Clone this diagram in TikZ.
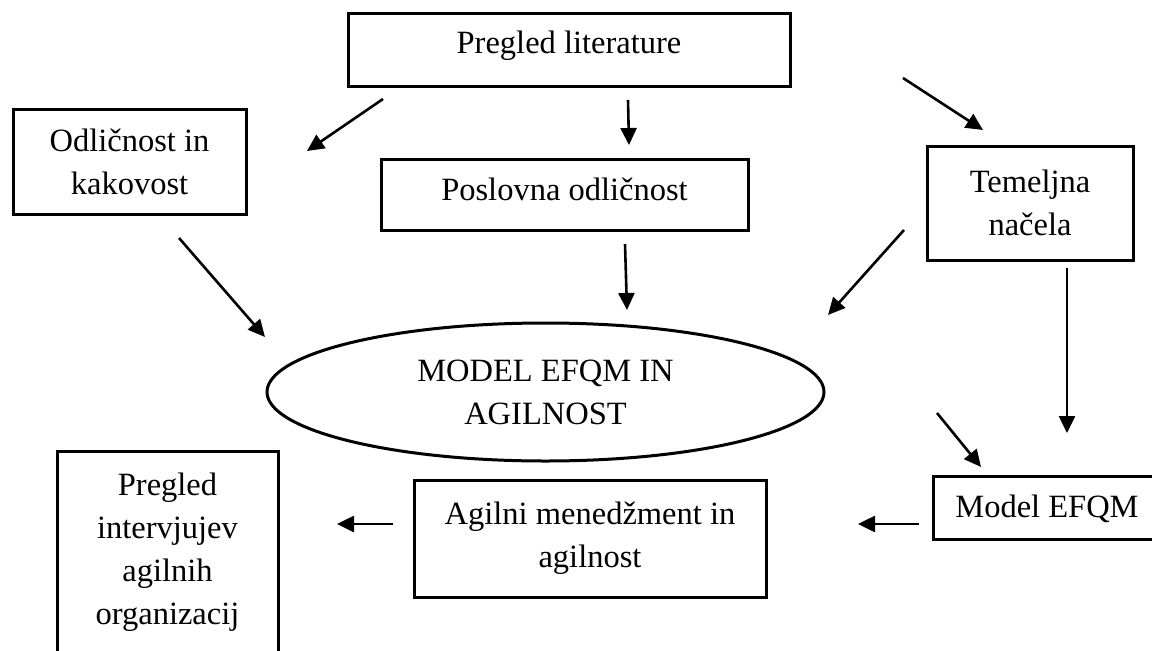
\documentclass[tikz,border=0pt]{standalone}
\usepackage{fontspec}
\setmainfont{Liberation Serif}
\usetikzlibrary{arrows.meta,shapes.geometric}
\begin{document}
\begin{tikzpicture}[x=1pt,y=-1pt,
  boxbase/.style={draw, line width=3pt, inner sep=0pt, font=\fontsize{32.5}{43}\selectfont},
  box/.style={boxbase, align=center},
  arr/.style={line width=2.6pt, -{Triangle[length=17pt,width=16pt]}}]
\useasboundingbox (0,0) rectangle (1152,651);
\fill[white] (0,0) rectangle (1152,651);
\clip (0,0) rectangle (1152,651);

% boxes
\node[box, anchor=base, minimum width=442pt, text height=40pt, text depth=33pt] (lit) at (569,53) {Pregled literature};
\node[box, minimum width=233pt, minimum height=105pt] (odl) at (129.5,161.5) {Odličnost in\\kakovost};
\node[box, anchor=base, minimum width=367pt, text height=41pt, text depth=30pt] (pos) at (564.5,200) {Poslovna odličnost};
\node[box, minimum width=206pt, minimum height=114pt] (tem) at (1030,203) {Temeljna\\načela};
\node[box, ellipse, minimum width=557pt, minimum height=138pt] (ell) at (545.5,392) {MODEL EFQM IN\\AGILNOST};
\node[box, anchor=base, minimum width=228pt, text height=41pt, text depth=22pt] (mod) at (1047,517) {Model EFQM};
\node[box, minimum width=352pt, minimum height=117pt] (agi) at (590,538.5) {Agilni menedžment in\\agilnost};
\node[boxbase, anchor=north, minimum width=221pt, text height=106pt, text depth=150pt] (pri) at (167.5,450)
  {\begin{tabular}{@{}c@{}}Pregled\\intervjujev\\agilnih\\organizacij\end{tabular}};

% connector ends
\coordinate (litOdlS) at (383,99);   \coordinate (litOdlE) at (307,151);
\coordinate (litPosS) at (628,100);  \coordinate (litPosE) at (629,145);
\coordinate (litTemS) at (903,78);   \coordinate (litTemE) at (983,130);
\coordinate (odlEllS) at (179,238);  \coordinate (odlEllE) at (265,337);
\coordinate (posEllS) at (625,244);  \coordinate (posEllE) at (627,310);
\coordinate (temEllS) at (904,230);  \coordinate (temEllE) at (828,315);
\coordinate (temModS) at (1067,268); \coordinate (temModE) at (1067,433);
\coordinate (ellModS) at (937,413);  \coordinate (ellModE) at (981,467);
\coordinate (modAgiS) at (919,524);  \coordinate (modAgiE) at (858,524);
\coordinate (agiPriS) at (393,524);  \coordinate (agiPriE) at (337,524);

\draw[arr] (litOdlS) -- (litOdlE);
\draw[arr] (litPosS) -- (litPosE);
\draw[arr] (litTemS) -- (litTemE);
\draw[arr] (odlEllS) -- (odlEllE);
\draw[arr] (posEllS) -- (posEllE);
\draw[arr] (temEllS) -- (temEllE);
\draw[arr] (temModS) -- (temModE);
\draw[arr] (ellModS) -- (ellModE);
\draw[arr] (modAgiS) -- (modAgiE);
\draw[arr] (agiPriS) -- (agiPriE);
\end{tikzpicture}
\end{document}
